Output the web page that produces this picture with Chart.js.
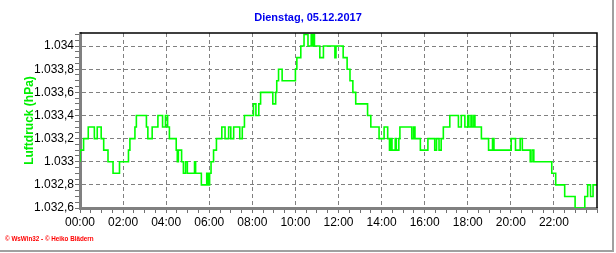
<!DOCTYPE html>
<html>
<head>
<meta charset="utf-8">
<script src="https://cdn.jsdelivr.net/npm/chart.js@4/dist/chart.umd.min.js"></script>
<style>
html,body{margin:0;padding:0;background:#fff;}
canvas{display:block;}
</style>
</head>
<body>
<canvas id="c" width="616" height="253"></canvas>
<script>
// Change points: time in minutes after midnight, pressure in hPa (held until next change)
const times = [0,10,23,40,48,59,66,78,92,110,135,139,153,157,185,189,201,217,230,238,244,249,268,271,274,283,288,294,299,319,322,338,353,357,361,365,372,380,395,404,414,420,428,445,452,458,483,490,498,503,537,545,548,553,563,600,604,615,624,635,644,647,649,653,668,678,710,713,733,744,752,760,768,801,810,833,847,857,862,866,869,878,881,888,891,924,929,933,948,969,988,993,1000,1006,1012,1030,1054,1062,1072,1080,1083,1089,1092,1097,1100,1118,1138,1149,1153,1201,1213,1226,1232,1254,1259,1264,1314,1325,1350,1379,1406,1414,1422,1429,1432,1440];
const pressure = [1033.0,1033.1,1033.2,1033.3,1033.2,1033.3,1033.2,1033.1,1033.0,1032.9,1033.0,1033.1,1033.2,1033.3,1033.4,1033.3,1033.2,1033.3,1033.4,1033.3,1033.4,1033.3,1033.2,1033.1,1033.0,1033.1,1033.0,1032.9,1033.0,1032.9,1033.0,1032.9,1032.8,1032.9,1032.8,1032.9,1033.0,1033.1,1033.2,1033.3,1033.2,1033.3,1033.2,1033.3,1033.2,1033.3,1033.4,1033.5,1033.4,1033.5,1033.6,1033.5,1033.6,1033.7,1033.8,1033.7,1033.8,1033.9,1034.0,1034.1,1034.0,1034.1,1034.0,1034.1,1034.0,1033.9,1034.0,1033.9,1034.0,1033.9,1033.8,1033.7,1033.6,1033.5,1033.4,1033.3,1033.2,1033.3,1033.2,1033.1,1033.2,1033.1,1033.2,1033.1,1033.2,1033.3,1033.2,1033.3,1033.2,1033.1,1033.2,1033.1,1033.2,1033.1,1033.2,1033.3,1033.4,1033.3,1033.4,1033.3,1033.4,1033.3,1033.4,1033.3,1033.4,1033.3,1033.2,1033.1,1033.2,1033.1,1033.2,1033.1,1033.2,1033.1,1033.0,1033.1,1033.0,1032.9,1032.8,1032.7,1032.6,1032.7,1032.8,1032.7,1032.8,1032.8];

const xTickValues = [0,120,240,360,480,600,720,840,960,1080,1200,1320];
const xTickLabels = ['00:00','02:00','04:00','06:00','08:00','10:00','12:00','14:00','16:00','18:00','20:00','22:00'];
const yTickValues = [1032.6,1032.8,1033.0,1033.2,1033.4,1033.6,1033.8,1034.0];
const yTickLabels = ['1.032,6','1.032,8','1.033','1.033,2','1.033,4','1.033,6','1.033,8','1.034'];

const titleText = 'Dienstag, 05.12.2017';
const yTitle = 'Luftdruck (hPa)';
const footerText = '\u00A9 WsWin32 - \u00A9 Heiko Bl\u00E4dern';

const FONT = "'Liberation Sans', Arial, sans-serif";

function xLabel(v){ const i = xTickValues.indexOf(v); return i >= 0 ? xTickLabels[i] : ''; }
function yLabel(v){ const i = yTickValues.findIndex(t => Math.abs(t - v) < 1e-6); return i >= 0 ? yTickLabels[i] : ''; }

const framePlugin = {
  id: 'frame',
  afterDraw(chart){
    const {ctx, chartArea:a} = chart;
    ctx.save();
    ctx.strokeStyle = '#000';
    ctx.lineWidth = 1.5;
    ctx.beginPath();
    ctx.moveTo(a.left, a.top);
    ctx.lineTo(a.right, a.top);
    ctx.lineTo(a.right, a.bottom);
    ctx.stroke();
    // outer window edge
    ctx.strokeStyle = '#a0a0a0';
    ctx.lineWidth = 2;
    ctx.beginPath();
    ctx.moveTo(613, 0);
    ctx.lineTo(613, 251);
    ctx.moveTo(0, 251);
    ctx.lineTo(614, 251);
    ctx.stroke();
    // footer
    ctx.fillStyle = '#ff0000';
    ctx.font = "bold 6.3px " + FONT;
    ctx.textBaseline = 'middle';
    ctx.textAlign = 'left';
    ctx.fillText(footerText, 5, 239);
    ctx.restore();
  }
};

new Chart(document.getElementById('c'), {
  type: 'line',
  data: {
    datasets: [{
      data: times.map((t, i) => ({x: t, y: pressure[i]})),
      borderColor: '#00ff00',
      borderWidth: 1.6,
      pointRadius: 0,
      stepped: 'after',
      fill: false,
      tension: 0
    }]
  },
  options: {
    responsive: false,
    animation: false,
    devicePixelRatio: 1,
    layout: {padding: {left: 0, right: 0, top: 0, bottom: 0}},
    plugins: {
      legend: {display: false},
      tooltip: {enabled: false},
      title: {
        display: true,
        text: titleText,
        color: '#0000ee',
        font: {family: FONT, size: 11, weight: 'bold', lineHeight: 1.2},
        padding: {top: 11.4, bottom: 8.4}
      }
    },
    scales: {
      x: {
        type: 'linear',
        min: 0,
        max: 1440,
        afterBuildTicks: (s) => {
          const arr = [];
          for (let m = 0; m <= 1440; m += 30) arr.push({value: m});
          s.ticks = arr;
        },
        afterFit: (s) => { s.height = 45; },
        ticks: {
          autoSkip: false,
          maxRotation: 0,
          padding: 2,
          color: '#000',
          font: {family: FONT, size: 12},
          callback: (v) => xLabel(v)
        },
        grid: {
          color: (c) => (c.tick && xTickValues.indexOf(c.tick.value) >= 0) ? '#808080' : 'rgba(0,0,0,0)',
          lineWidth: 1,
          drawTicks: true,
          tickLength: 5,
          tickColor: '#707070'
        },
        border: {display: true, color: '#808080', width: 3, dash: [4, 3]}
      },
      y: {
        type: 'linear',
        min: 1032.6,
        max: 1034.113,
        afterBuildTicks: (s) => {
          const arr = [];
          for (let k = 0; k <= 30; k++) arr.push({value: Math.round((1032.6 + k * 0.05) * 100) / 100});
          s.ticks = arr;
        },
        afterFit: (s) => { s.width = 80; },
        ticks: {
          autoSkip: false,
          padding: 1,
          color: '#000',
          font: {family: FONT, size: 12},
          callback: (v) => yLabel(v)
        },
        grid: {
          color: (c) => (c.tick && yTickValues.some(t => Math.abs(t - c.tick.value) < 1e-6)) ? '#808080' : 'rgba(0,0,0,0)',
          lineWidth: 1,
          drawTicks: true,
          tickLength: 5,
          tickColor: '#707070'
        },
        border: {display: true, color: '#808080', width: 3, dash: [4, 3]},
        title: {
          display: true,
          text: yTitle,
          color: '#00ee00',
          font: {family: FONT, size: 12, weight: 'bold', lineHeight: 1.2},
          padding: {top: 22.5, bottom: 0}
        }
      },
      yRight: {
        type: 'linear',
        position: 'right',
        display: true,
        afterFit: (s) => { s.width = 19; },
        ticks: {display: false},
        grid: {display: false, drawTicks: false},
        border: {display: false}
      }
    }
  },
  plugins: [framePlugin]
});
</script>
</body>
</html>
